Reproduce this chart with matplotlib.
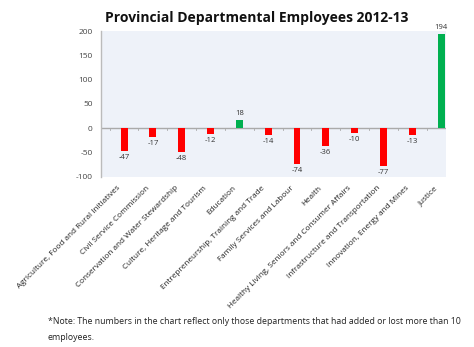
import matplotlib
matplotlib.use("Agg")
import matplotlib.pyplot as plt
import matplotlib.transforms as mtransforms
import numpy as np

departments = [
    "Agriculture, Food and Rural Initiatives",
    "Civil Service Commission",
    "Conservation and Water Stewardship",
    "Culture, Heritage and Tourism",
    "Education",
    "Entrepreneurship, Training and Trade",
    "Family Services and Labour",
    "Health",
    "Healthy Living, Seniors and Consumer Affairs",
    "Infrastructure and Transportation",
    "Innovation, Energy and Mines",
    "Justice",
]
changes = [-47, -17, -48, -12, 18, -14, -74, -36, -10, -77, -13, 194]
yticks = [-100, -50, 0, 50, 100, 150, 200]

plt.rcParams['font.family'] = ['Open Sans', 'DejaVu Sans']

fig = plt.figure(figsize=(4.74, 3.47), dpi=100)
ax = fig.add_axes([101 / 474, 1 - 177 / 347, 345 / 474, 146 / 347])
ax.set_facecolor("#EEF2F9")

x = np.arange(len(departments))
colors = ["#00B050" if v > 0 else "#FF0000" for v in changes]
ax.bar(x, changes, width=0.24, color=colors, zorder=3)

for xi, v in zip(x, changes):
    if v >= 0:
        ax.text(xi, v + 6, str(v), ha="center", va="bottom", fontsize=5.5, color="#333333")
    else:
        ax.text(xi, v - 6, str(v), ha="center", va="top", fontsize=5.5, color="#333333")

ax.set_xlim(-0.8, 11.17)
ax.set_ylim(-100, 200)
ax.set_yticks(yticks)
ax.set_yticklabels([str(t) for t in yticks], fontsize=6, color="#444444")
ax.tick_params(axis="y", length=0, pad=6)

ax.set_xticks(x)
ax.set_xticklabels(departments, rotation=45, ha="right", rotation_mode="anchor",
                   fontsize=5.9, color="#222222")
ax.tick_params(axis="x", length=0, pad=4)
label_shift = mtransforms.ScaledTranslation(-7 / 100, -2 / 100, fig.dpi_scale_trans)
for lbl in ax.get_xticklabels():
    lbl.set_transform(lbl.get_transform() + label_shift)

for s in ["top", "right", "bottom"]:
    ax.spines[s].set_visible(False)
ax.spines["left"].set_color("#BBBBBB")
ax.spines["left"].set_linewidth(1.0)
ax.axhline(0, color="#AAAAAA", linewidth=1.0, zorder=2)
# small category separators on the zero line
for b in np.arange(-0.5, len(departments) - 0.5, 1.0):
    ax.plot([b, b], [0, -2.5], color="#AAAAAA", linewidth=0.6, zorder=2)

fig.text(257 / 474, 1 - 18 / 347, "Provincial Departmental Employees 2012-13",
         ha="center", va="center", fontsize=10, fontweight="bold", color="#111111")

fig.text(48 / 474, 1 - 322 / 347,
         "*Note: The numbers in the chart reflect only those departments that had added or lost more than 10",
         ha="left", va="center", fontsize=6.35, color="#222222")
fig.text(48 / 474, 1 - 337 / 347, "employees.",
         ha="left", va="center", fontsize=6.35, color="#222222")

fig.savefig("out.png", dpi=100)
